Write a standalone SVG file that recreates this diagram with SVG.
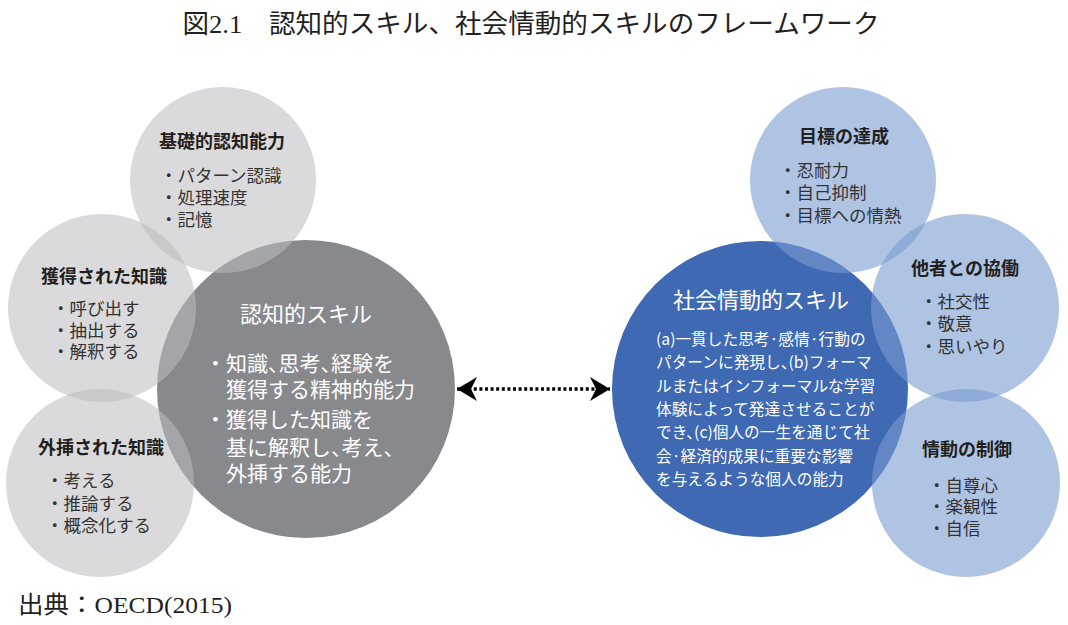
<svg xmlns="http://www.w3.org/2000/svg" width="1068" height="625" viewBox="0 0 1068 625">
<defs>
<style>
.serif{font-family:"Liberation Serif","Noto Sans CJK JP",serif;fill:#231f20}
.t{font-family:"Noto Sans CJK JP","Noto Sans",sans-serif}
.h{font-size:18px;font-weight:bold;fill:#231f20;text-anchor:middle}
.i{font-size:17.5px;fill:#333}
.w{fill:#fff}
.halt{font-feature-settings:"halt"}
.nf{font-feature-settings:normal}
.lg{fill:#bbbcbf;fill-opacity:0.55}
.lb{fill:#7a9bd0;fill-opacity:0.6}
</style>
<marker id="ah" viewBox="0 0 22 24" markerUnits="userSpaceOnUse" markerWidth="22" markerHeight="24" refX="20" refY="12" orient="auto-start-reverse">
<path d="M0,0 L20,12 L0,24 L6,12 Z" fill="#000"/>
</marker>
</defs>
<rect width="1068" height="625" fill="#fff"/>
<text class="serif" x="531" y="33" font-size="26" text-anchor="middle" textLength="697" lengthAdjust="spacingAndGlyphs">図2.1　認知的スキル、社会情動的スキルのフレームワーク</text>

<g id="cognitive">
<circle cx="306" cy="389" r="149" fill="#88898d"/>
<text class="t w" x="306" y="322" font-size="22" text-anchor="middle">認知的スキル</text>
<g class="t w" font-size="21">
<text class="halt" x="205" y="371"><tspan class="nf">・</tspan>知識、思考、経験を</text>
<text x="226" y="397">獲得する精神的能力</text>
<text x="205" y="427">・獲得した知識を</text>
<text class="halt" x="226" y="455">基に解釈し、考え、</text>
<text x="226" y="481">外挿する能力</text>
</g>
</g>

<g id="basic-cognitive">
<circle class="lg" cx="223" cy="180" r="93"/>
<text class="t h" x="222" y="148">基礎的認知能力</text>
<text class="t i" x="160" y="182">・パターン認識</text>
<text class="t i" x="160" y="204">・処理速度</text>
<text class="t i" x="160" y="226">・記憶</text>
</g>

<g id="acquired-knowledge">
<circle class="lg" cx="102" cy="308" r="94"/>
<text class="t h" x="104" y="283">獲得された知識</text>
<text class="t i" x="52" y="315">・呼び出す</text>
<text class="t i" x="52" y="337">・抽出する</text>
<text class="t i" x="52" y="358">・解釈する</text>
</g>

<g id="extrapolated-knowledge">
<circle class="lg" cx="100" cy="483" r="94"/>
<text class="t h" x="101" y="454">外挿された知識</text>
<text class="t i" x="46" y="487">・考える</text>
<text class="t i" x="46" y="510">・推論する</text>
<text class="t i" x="46" y="532">・概念化する</text>
</g>

<g id="socio-emotional">
<circle cx="760" cy="389" r="148" fill="#3f69b2"/>
<text class="t w" x="761" y="308" font-size="22" text-anchor="middle">社会情動的スキル</text>
<g class="t w" font-size="15.7">
<text x="656" y="345">(a)一貫した思考·感情·行動の</text>
<text class="halt" x="656" y="368">パターンに発現し、(b)フォーマ</text>
<text x="656" y="392">ルまたはインフォーマルな学習</text>
<text x="656" y="415">体験によって発達させることが</text>
<text class="halt" x="656" y="438">でき、(c)個人の一生を通じて社</text>
<text x="656" y="462">会·経済的成果に重要な影響</text>
<text x="656" y="485">を与えるような個人の能力</text>
</g>
</g>

<g id="goal-achievement">
<circle class="lb" cx="843" cy="180" r="93"/>
<text class="t h" x="844" y="143">目標の達成</text>
<text class="t i" x="779" y="177">・忍耐力</text>
<text class="t i" x="779" y="199">・自己抑制</text>
<text class="t i" x="779" y="222">・目標への情熱</text>
</g>

<g id="working-with-others">
<circle class="lb" cx="965" cy="308" r="94"/>
<text class="t h" x="965" y="275">他者との協働</text>
<text class="t i" x="920" y="308">・社交性</text>
<text class="t i" x="920" y="330">・敬意</text>
<text class="t i" x="920" y="353">・思いやり</text>
</g>

<g id="managing-emotions">
<circle class="lb" cx="966" cy="483" r="94"/>
<text class="t h" x="967" y="456">情動の制御</text>
<text class="t i" x="928" y="492">・自尊心</text>
<text class="t i" x="928" y="513">・楽観性</text>
<text class="t i" x="928" y="535">・自信</text>
</g>

<g id="connectors">
<line x1="457" y1="389" x2="610" y2="389" stroke="#000" stroke-width="3.5" stroke-dasharray="3 2.6" marker-start="url(#ah)" marker-end="url(#ah)"/>
</g>

<text class="serif" x="18" y="613" font-size="24" textLength="214" lengthAdjust="spacingAndGlyphs">出典：OECD(2015)</text>
</svg>
